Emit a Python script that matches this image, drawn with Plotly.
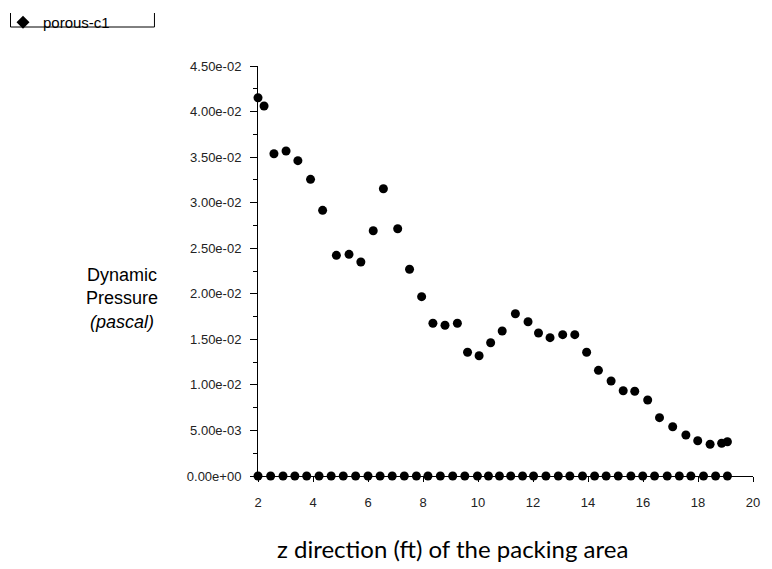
import plotly.graph_objects as go

# Data
z_ft = [2.00, 2.22, 2.58, 3.02, 3.45, 3.91, 4.35, 4.85, 5.31, 5.74, 6.19, 6.56, 7.08, 7.51,
        7.95, 8.36, 8.80, 9.25, 9.62, 10.04, 10.46, 10.88, 11.36, 11.82, 12.20, 12.62, 13.08,
        13.52, 13.95, 14.38, 14.84, 15.28, 15.70, 16.17, 16.60, 17.08, 17.56, 17.99, 18.44,
        18.86, 19.07]
pressure = [0.04152, 0.04061, 0.03537, 0.03567, 0.03461, 0.03256, 0.02916, 0.02422, 0.02433,
            0.02349, 0.02692, 0.03153, 0.02714, 0.02269, 0.01968, 0.01676, 0.01654, 0.01676,
            0.01358, 0.01320, 0.01463, 0.01591, 0.01781, 0.01693, 0.01570, 0.01518, 0.01551,
            0.01551, 0.01358, 0.01160, 0.01043, 0.00936, 0.00930, 0.00834, 0.00640, 0.00541,
            0.00450, 0.00387, 0.00348, 0.00359, 0.00376]

z_zero = [2.00, 2.46, 2.91, 3.34, 3.77, 4.22, 4.66, 5.10, 5.55, 6.00, 6.44, 6.88, 7.32, 7.76,
          8.18, 8.63, 9.08, 9.52, 9.98, 10.38, 10.78, 11.19, 11.62, 12.02, 12.47, 12.92,
          13.34, 13.80, 14.24, 14.66, 15.10, 15.56, 15.99, 16.42, 16.88, 17.32, 17.74, 18.20,
          18.64, 19.07]
pressure_zero = [0.0] * len(z_zero)

series_name = "porous-c1"
y_tickvals = [0.0, 0.005, 0.010, 0.015, 0.020, 0.025, 0.030, 0.035, 0.040, 0.045]
y_ticktext = ["0.00e+00", "5.00e-03", "1.00e-02", "1.50e-02", "2.00e-02", "2.50e-02",
              "3.00e-02", "3.50e-02", "4.00e-02", "4.50e-02"]
x_tickvals = [2, 4, 6, 8, 10, 12, 14, 16, 18, 20]

fig = go.Figure()
fig.add_trace(go.Scatter(x=z_ft, y=pressure, mode="markers", name=series_name,
                         marker=dict(symbol="circle", size=9, color="black"),
                         cliponaxis=False, showlegend=False, legendgroup="p"))
fig.add_trace(go.Scatter(x=z_zero, y=pressure_zero, mode="markers", name=series_name,
                         marker=dict(symbol="circle", size=9, color="black"),
                         cliponaxis=False, showlegend=False, legendgroup="p"))
# legend entry (diamond symbol as in the reference legend)
fig.add_trace(go.Scatter(x=[None], y=[None], mode="markers", name=series_name,
                         marker=dict(symbol="diamond", size=10, color="black"),
                         showlegend=True, legendgroup="p"))

tickfont = dict(family="Liberation Sans, Arial", size=13, color="#222")

fig.update_layout(
    width=772, height=569,
    margin=dict(l=258, r=12, t=66, b=93),
    paper_bgcolor="white", plot_bgcolor="white",
    font=dict(family="Liberation Sans, Arial", color="black"),
    xaxis=dict(range=[2, 20], tickvals=x_tickvals, showgrid=False, zeroline=False,
               showline=True, linecolor="black", linewidth=1,
               ticks="outside", ticklen=5, tickcolor="black", tickfont=tickfont,
               ticklabelstandoff=9),
    yaxis=dict(range=[0, 0.045], tickvals=y_tickvals, ticktext=y_ticktext,
               showgrid=False, zeroline=False, showline=True, linecolor="black",
               linewidth=1, ticks="outside", ticklen=7, tickcolor="black",
               tickfont=tickfont, ticklabelstandoff=6,
               minor=dict(dtick=0.0025, ticks="outside", ticklen=4, tickcolor="black")),
    legend=dict(xref="container", yref="container", x=3 / 772, y=1 - 6 / 569,
                xanchor="left", yanchor="top", font=dict(size=15, color="black"),
                bgcolor="rgba(0,0,0,0)", itemwidth=30),
    showlegend=True,
)

fig.add_annotation(xref="paper", yref="paper", x=(159 - 258) / 502, y=(476 - 298) / 410,
                   xanchor="right", yanchor="middle", showarrow=False, align="center",
                   text="Dynamic<br>Pressure<br><i>(pascal)</i>",
                   font=dict(family="Liberation Sans, Arial", size=18, color="black"))
fig.add_annotation(xref="paper", yref="paper", x=(455 - 258) / 502, y=(476 - 548) / 410,
                   xanchor="center", yanchor="middle", showarrow=False,
                   text="z direction (ft) of the packing area",
                   font=dict(family="Lato, Open Sans", size=24, color="black"))

# legend bracket
fig.add_shape(type="path", xref="paper", yref="paper",
              path=f"M {(7-258)/502} {(476-13)/410} L {(7-258)/502} {(476-27)/410} "
                   f"L {(153-258)/502} {(476-27)/410} L {(153-258)/502} {(476-13)/410}",
              line=dict(color="black", width=1))

fig.write_html("out.html")
